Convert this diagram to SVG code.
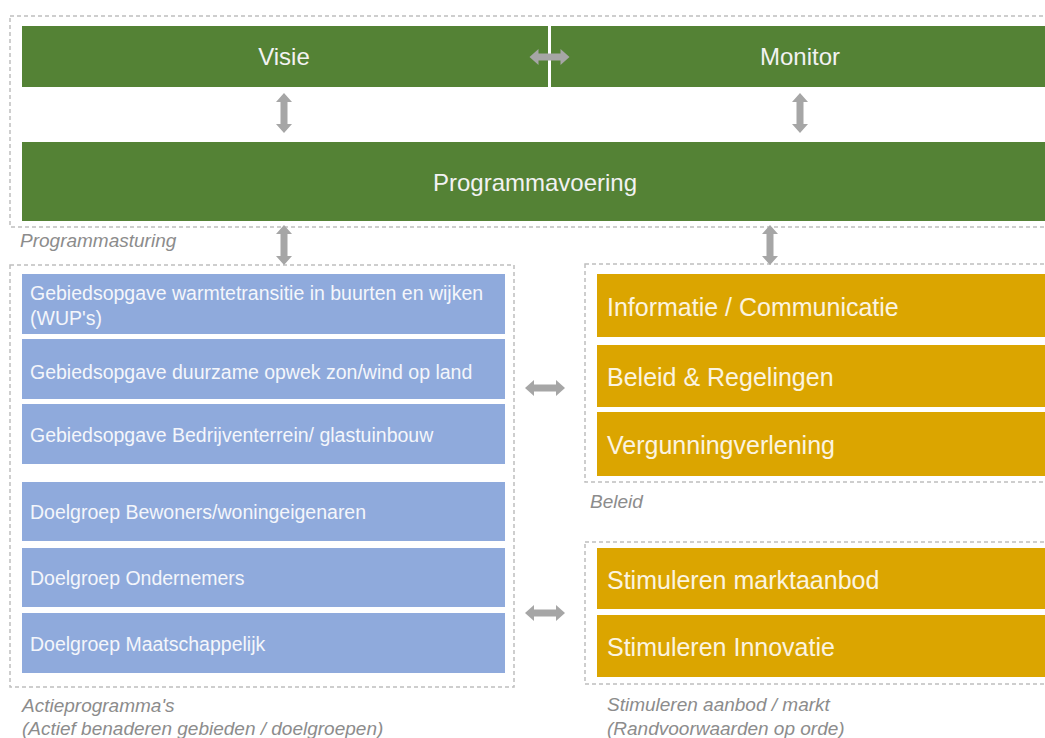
<svg xmlns="http://www.w3.org/2000/svg" width="1045" height="738" viewBox="0 0 1045 738">
<style>
.frame{fill:none;stroke:#BFBFBF;stroke-width:1.5;stroke-dasharray:4 3}
.green{fill:#548235}
.blue{fill:#8FAADC}
.gold{fill:#DBA500}
.tg{font-family:"Liberation Sans",Arial,sans-serif;font-size:24px;fill:#F2F2F2}
.tb{font-family:"Liberation Sans",Arial,sans-serif;font-size:19.5px;fill:#F4F6FB}
.ty{font-family:"Liberation Sans",Arial,sans-serif;font-size:25px;fill:#FBF4E0}
.cap{font-family:"Liberation Sans",Arial,sans-serif;font-size:19px;font-style:italic;fill:#8C8C8C}
.arr{fill:#A6A6A6}
</style>
<defs>
<path id="dv" d="M0,-20 L8,-11 L3.5,-11 L3.5,11 L8,11 L0,20 L-8,11 L-3.5,11 L-3.5,-11 L-8,-11 Z"/>
</defs>
<rect width="1045" height="738" fill="#FFFFFF"/>

<g id="frames">
<rect class="frame" x="10" y="16" width="1045" height="211"/>
<rect class="frame" x="10" y="265" width="504" height="422"/>
<rect class="frame" x="585" y="264" width="470" height="218"/>
<rect class="frame" x="585" y="542" width="470" height="142"/>
</g>

<g id="visie"><rect class="green" x="22" y="26" width="526" height="61"/><text class="tg" x="284" y="65" text-anchor="middle">Visie</text></g>
<g id="monitor"><rect class="green" x="551" y="26" width="500" height="61"/><text class="tg" x="800" y="65" text-anchor="middle">Monitor</text></g>
<g id="programmavoering"><rect class="green" x="22" y="142" width="1030" height="79"/><text class="tg" x="535" y="191" text-anchor="middle">Programmavoering</text></g>
<g id="cap-programmasturing"><text class="cap" x="20" y="247">Programmasturing</text></g>

<g id="blue1"><rect class="blue" x="22" y="274" width="483" height="60"/><text class="tb" x="30" y="300">Gebiedsopgave warmtetransitie in buurten en wijken</text><text class="tb" x="30" y="325">(WUP's)</text></g>
<g id="blue2"><rect class="blue" x="22" y="339" width="483" height="60"/><text class="tb" x="30" y="379">Gebiedsopgave duurzame opwek zon/wind op land</text></g>
<g id="blue3"><rect class="blue" x="22" y="404" width="483" height="60"/><text class="tb" x="30" y="442">Gebiedsopgave Bedrijventerrein/ glastuinbouw</text></g>
<g id="blue4"><rect class="blue" x="22" y="482" width="483" height="59"/><text class="tb" x="30" y="519">Doelgroep Bewoners/woningeigenaren</text></g>
<g id="blue5"><rect class="blue" x="22" y="548" width="483" height="59"/><text class="tb" x="30" y="585">Doelgroep Ondernemers</text></g>
<g id="blue6"><rect class="blue" x="22" y="613" width="483" height="60"/><text class="tb" x="30" y="651">Doelgroep Maatschappelijk</text></g>
<g id="cap-actie"><text class="cap" x="22" y="712">Actieprogramma's</text><text class="cap" x="22" y="735">(Actief benaderen gebieden / doelgroepen)</text></g>

<g id="gold1"><rect class="gold" x="597" y="274" width="455" height="63"/><text class="ty" x="607" y="316">Informatie / Communicatie</text></g>
<g id="gold2"><rect class="gold" x="597" y="345" width="455" height="62"/><text class="ty" x="607" y="386">Beleid &amp; Regelingen</text></g>
<g id="gold3"><rect class="gold" x="597" y="412" width="455" height="64"/><text class="ty" x="607" y="454">Vergunningverlening</text></g>
<g id="cap-beleid"><text class="cap" x="590" y="508">Beleid</text></g>
<g id="gold4"><rect class="gold" x="597" y="548" width="455" height="61"/><text class="ty" x="607" y="589">Stimuleren marktaanbod</text></g>
<g id="gold5"><rect class="gold" x="597" y="615" width="455" height="62"/><text class="ty" x="607" y="656">Stimuleren Innovatie</text></g>
<g id="cap-stimuleren"><text class="cap" x="607" y="711">Stimuleren aanbod / markt</text><text class="cap" x="607" y="735">(Randvoorwaarden op orde)</text></g>

<g id="connectors" class="arr">
<line x1="549.5" y1="26" x2="549.5" y2="87" stroke="#FFFFFF" stroke-width="3"/>
<use href="#dv" transform="translate(549.5,57) rotate(90)"/>
<use href="#dv" transform="translate(284,113)"/>
<use href="#dv" transform="translate(800,113)"/>
<use href="#dv" transform="translate(284,245)"/>
<use href="#dv" transform="translate(770,245)"/>
<use href="#dv" transform="translate(545,388) rotate(90)"/>
<use href="#dv" transform="translate(545,613) rotate(90)"/>
</g>
</svg>
